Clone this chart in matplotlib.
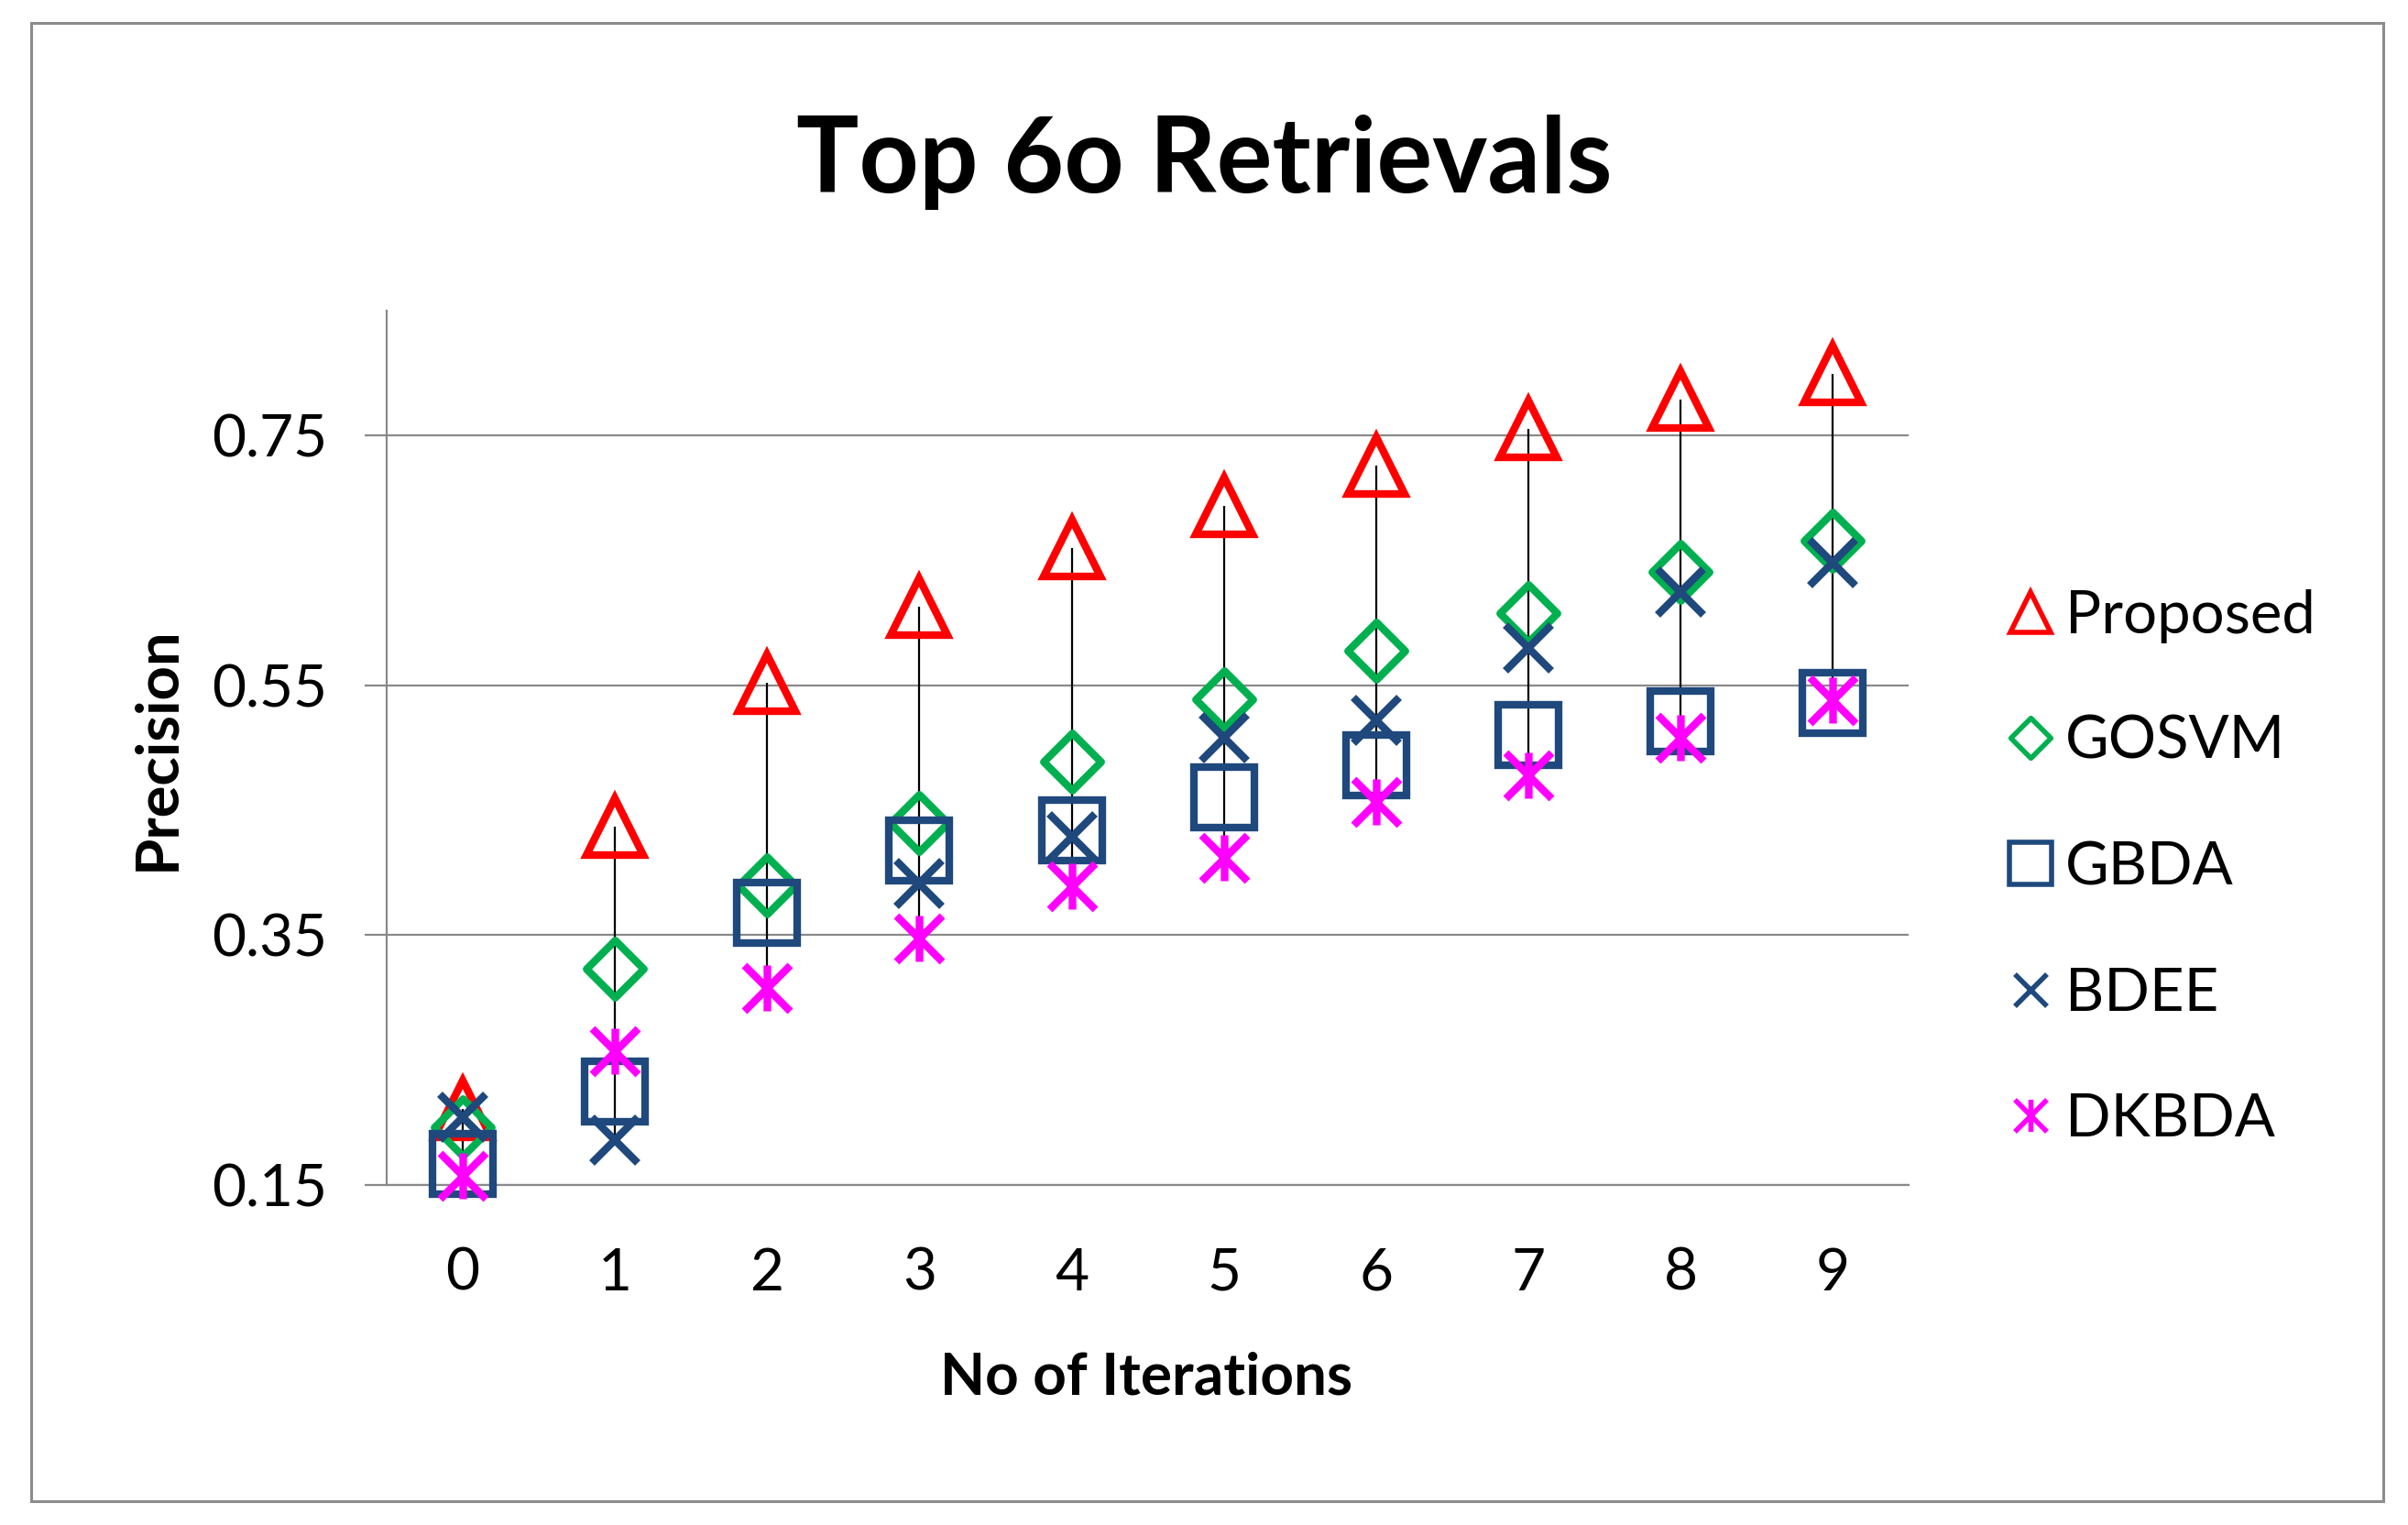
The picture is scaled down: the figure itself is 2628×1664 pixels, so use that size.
import numpy as np
import matplotlib.pyplot as plt
from matplotlib.path import Path
from matplotlib.lines import Line2D
from matplotlib.patches import Rectangle

plt.rcParams['font.family'] = ['Lato', 'DejaVu Sans']

iterations = [0, 1, 2, 3, 4, 5, 6, 7, 8, 9]
proposed = [0.211, 0.437, 0.552, 0.613, 0.660, 0.694, 0.726, 0.755, 0.779, 0.799]
gosvm = [0.196, 0.323, 0.390, 0.440, 0.489, 0.539, 0.578, 0.608, 0.641, 0.666]
gbda = [0.167, 0.225, 0.368, 0.418, 0.434, 0.460, 0.486, 0.510, 0.521, 0.536]
bdee = [0.204, 0.186, np.nan, 0.391, 0.429, 0.508, 0.522, 0.580, 0.625, 0.648]
dkbda = [0.157, 0.257, 0.308, 0.347, 0.389, 0.412, 0.457, 0.478, 0.508, 0.538]
names = ['Proposed', 'GOSVM', 'GBDA', 'BDEE', 'DKBDA']
yticks = [0.15, 0.35, 0.55, 0.75]

grey = '#898989'
navy = '#1F497D'

# excel style marker shapes
diamond = Path([(-1, 0), (0, 1), (1, 0), (0, -1), (-1, 0)], closed=True)
star = Path([(-1, -1), (1, 1), (-1, 1), (1, -1), (0, -1), (0, 1)],
            [Path.MOVETO, Path.LINETO, Path.MOVETO, Path.LINETO, Path.MOVETO, Path.LINETO])

styles = [
    dict(marker='^', color='#FF0000', ms=45, mew=6),
    dict(marker=diamond, color='#00B050', ms=45, mew=6),
    dict(marker='s', color=navy, ms=47, mew=6),
    dict(marker='x', color=navy, ms=36, mew=6),
    dict(marker=star, color='#FF00FF', ms=36, mew=6),
]

fig = plt.figure(figsize=(26.28, 16.64), dpi=100)
ax = fig.add_axes([0.1606, 0.2230, 0.6321, 0.5733])

series = [proposed, gosvm, gbda, bdee, dkbda]
arr = np.array(series, dtype=float)
hi = np.nanmax(arr, axis=0)
lo = np.nanmin(arr, axis=0)
ax.vlines(iterations, lo, hi, color='black', lw=1.6, zorder=2)

for vals, st in zip(series, styles):
    ax.plot(iterations, vals, ls='none', marker=st['marker'], ms=st['ms'], mew=st['mew'],
            mec=st['color'], mfc='none', zorder=3, clip_on=False)

ax.set_xlim(-0.5, 9.5)
ax.set_ylim(0.15, 0.85)
ax.set_xticks(iterations)
ax.set_xticklabels([str(i) for i in iterations])
ax.set_yticks(yticks)
ax.set_yticklabels(['%.2f' % v for v in yticks])
ax.grid(axis='y', color=grey, lw=1.6)
ax.set_axisbelow(True)
for s in ['top', 'right']:
    ax.spines[s].set_visible(False)
for s in ['left', 'bottom']:
    ax.spines[s].set_color(grey)
    ax.spines[s].set_linewidth(1.6)
ax.tick_params(axis='y', direction='out', length=17, width=1.6, color=grey, pad=30, labelsize=46)
ax.tick_params(axis='x', length=0, pad=49, labelsize=46)

fig.text(0.5, 0.8738, 'Top 6o Retrievals', ha='center', va='baseline', fontsize=82, fontweight='bold')
fig.text(0.476, 0.0968, 'No of Iterations', ha='center', va='center', fontsize=46, fontweight='bold')
fig.text(0.0655, 0.509, 'Precision', ha='center', va='center', rotation=90, fontsize=47, fontweight='bold')

handles = []
for st in styles:
    handles.append(Line2D([], [], ls='none', marker=st['marker'], ms=st['ms'] * 0.7,
                          mew=4, mec=st['color'], mfc='none'))
fig.legend(handles, names, loc='center left', bbox_to_anchor=(0.834, 0.431), frameon=False,
           fontsize=47, handlelength=0.75, handletextpad=0.2, labelspacing=1.2,
           borderpad=0, borderaxespad=0)

fig.patches.append(Rectangle((0.0129, 0.0156), 0.9768, 0.9694, transform=fig.transFigure,
                             fill=False, ec='#8C8C8C', lw=2.2))

fig.savefig('out.png', dpi=100)
